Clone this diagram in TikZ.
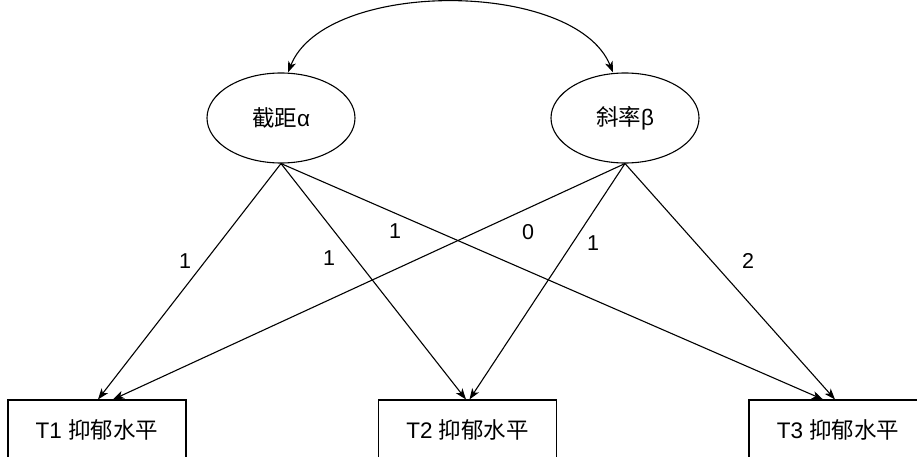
\documentclass[tikz,border=0pt]{standalone}
\usepackage{fontspec}
\setmainfont{Liberation Sans}
\newfontfamily\cjk{Noto Sans CJK SC}
\usetikzlibrary{shapes.geometric,arrows.meta}
\tikzset{
  latent/.style={draw, line width=1.1pt, ellipse, minimum width=148pt, minimum height=90pt, inner sep=0pt, font=\fontsize{22.5}{26}\selectfont},
  observed/.style={draw, line width=1.1pt, rectangle, minimum width=178pt, minimum height=60pt, inner sep=0pt, font=\fontsize{22.5}{26}\selectfont},
  path/.style={line width=1.1pt, -{Stealth[length=11pt,width=8pt,inset=3pt]}},
  cov/.style={line width=1.1pt, {Stealth[length=11pt,width=8pt,inset=3pt]}-{Stealth[length=11pt,width=8pt,inset=3pt]}},
  lbl/.style={inner sep=0pt, font=\fontsize{21.5}{26}\selectfont}
}
\begin{document}
\begin{tikzpicture}[x=1pt,y=-1pt]
\fill[white] (0,0) rectangle (917,457);
\clip (0,0) rectangle (917,457);
\node[latent] (a) at (281,118) {{\cjk 截距}α};
\node[latent] (b) at (625,118) {{\cjk 斜率}β};
\node[observed] (t1) at (97,430) {T1 {\cjk 抑郁水平}};
\node[observed] (t2) at (467.5,430) {T2 {\cjk 抑郁水平}};
\node[observed] (t3) at (838,430) {T3 {\cjk 抑郁水平}};
\draw[cov] ([xshift=7pt]a.north) .. controls (325,-21) and (575,-21) .. ([xshift=-12pt]b.north);
\draw[path] (a.south) -- ([xshift=1pt]t1.north);
\draw[path] (a.south) -- ([xshift=-1.5pt]t2.north);
\draw[path] (a.south) -- ([xshift=-15pt]t3.north);
\draw[path] (b.south) -- ([xshift=16pt]t1.north);
\draw[path] (b.south) -- ([xshift=2pt]t2.north);
\draw[path] (b.south) -- ([xshift=-3pt]t3.north);
\node[lbl] (l1) at (185,261) {1};
\node[lbl] (l2) at (329,258) {1};
\node[lbl] (l3) at (395,231) {1};
\node[lbl] (l4) at (528,232) {0};
\node[lbl] (l5) at (593,243) {1};
\node[lbl] (l6) at (748,261) {2};
\end{tikzpicture}
\end{document}
